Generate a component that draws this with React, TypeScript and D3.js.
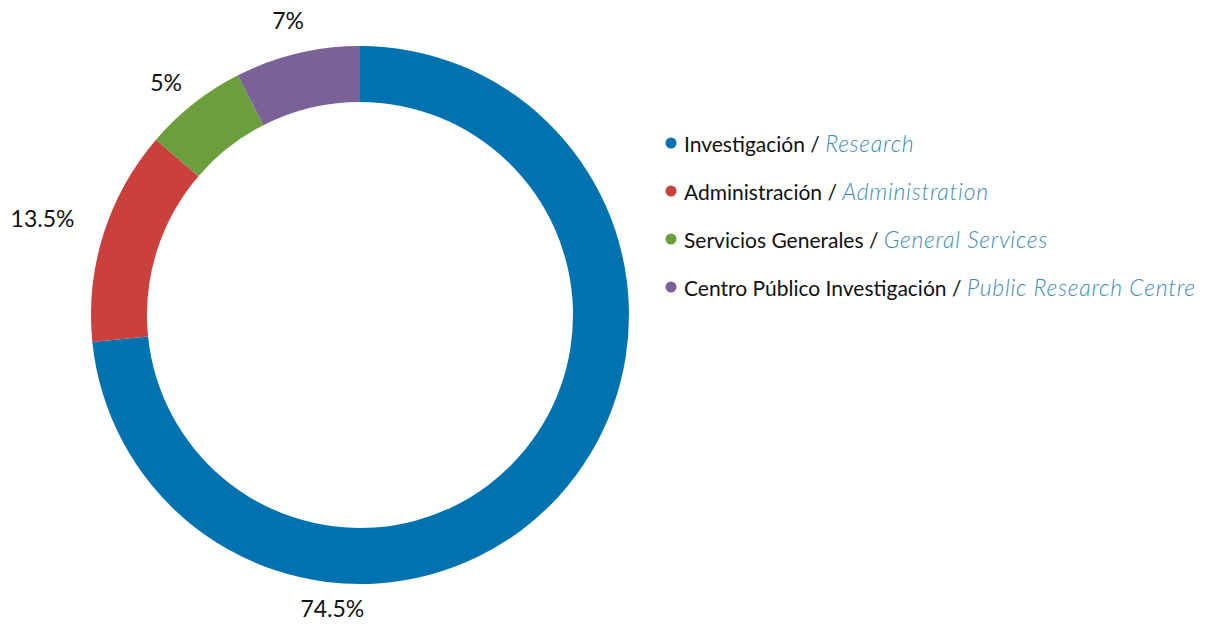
import React, { useEffect, useRef } from 'react';
import * as d3 from 'd3';

// data
const categories = ['Investigación', 'Administración', 'Servicios Generales', 'Centro Público Investigación'];
const categoriesEn = ['Research', 'Administration', 'General Services', 'Public Research Centre'];
// slice shares as drawn in the picture (arc sizes)
const values = [73.4, 12.9, 6.2, 7.5];
// printed labels
const valueLabels = ['74.5%', '13.5%', '5%', '7%'];
const colors = ['#0072B0', '#C9403D', '#6A9F3C', '#7A6296'];

// where each percentage label sits (degrees clockwise from top, distance from centre)
const labelAngles = [185.4, 287, 320.2, 346.3];
const labelRadii = [294, 332, 303, 304];

const App = () => {
  const svgRef = useRef(null);

  useEffect(() => {
    const width = 1221;
    const height = 627;
    const cx = 360;
    const cy = 315;
    const outerR = 269;
    const innerR = 213;

    const svg = d3.select(svgRef.current);
    svg.selectAll('*').remove();
    svg.attr('width', width).attr('height', height).attr('viewBox', `0 0 ${width} ${height}`);

    const font = 'Lato, "Open Sans", sans-serif';

    const pie = d3.pie<number>().sort(null).value(d => d);
    const arc = d3.arc<d3.PieArcDatum<number>>().innerRadius(innerR).outerRadius(outerR);

    const g = svg.append('g').attr('transform', `translate(${cx}, ${cy})`);

    g.selectAll('path')
      .data(pie(values))
      .enter()
      .append('path')
      .attr('d', arc)
      .attr('fill', (d, i) => colors[i]);

    // percentage labels
    g.selectAll('text.pct')
      .data(valueLabels)
      .enter()
      .append('text')
      .attr('class', 'pct')
      .attr('x', (d, i) => Math.sin((labelAngles[i] * Math.PI) / 180) * labelRadii[i])
      .attr('y', (d, i) => -Math.cos((labelAngles[i] * Math.PI) / 180) * labelRadii[i])
      .attr('text-anchor', 'middle')
      .attr('dominant-baseline', 'central')
      .attr('font-family', font)
      .attr('font-size', '23px')
      .attr('fill', '#111')
      .text(d => d);

    // legend
    const legendY = d3.scalePoint<number>()
      .domain(d3.range(categories.length))
      .range([143, 287]);

    const legend = svg.append('g');
    const rows = legend.selectAll('g')
      .data(categories)
      .enter()
      .append('g')
      .attr('transform', (d, i) => `translate(671, ${legendY(i)})`);

    rows.append('circle')
      .attr('r', 5.5)
      .attr('fill', (d, i) => colors[i]);

    const txt = rows.append('text')
      .attr('x', 13)
      .attr('dominant-baseline', 'central')
      .attr('font-family', font)
      .attr('font-size', '21px');

    txt.append('tspan')
      .attr('fill', '#111')
      .text(d => `${d} / `);

    txt.append('tspan')
      .attr('fill', '#3F8DB6')
      .attr('font-style', 'italic')
      .attr('font-weight', 300)
      .attr('font-size', '23px')
      .attr('letter-spacing', '0.7px')
      .text((d, i) => categoriesEn[i]);
  }, []);

  return (
    <div style={{ margin: -8 }}>
      <svg ref={svgRef} style={{ display: 'block', background: '#fff' }}></svg>
    </div>
  );
};

export default App;
